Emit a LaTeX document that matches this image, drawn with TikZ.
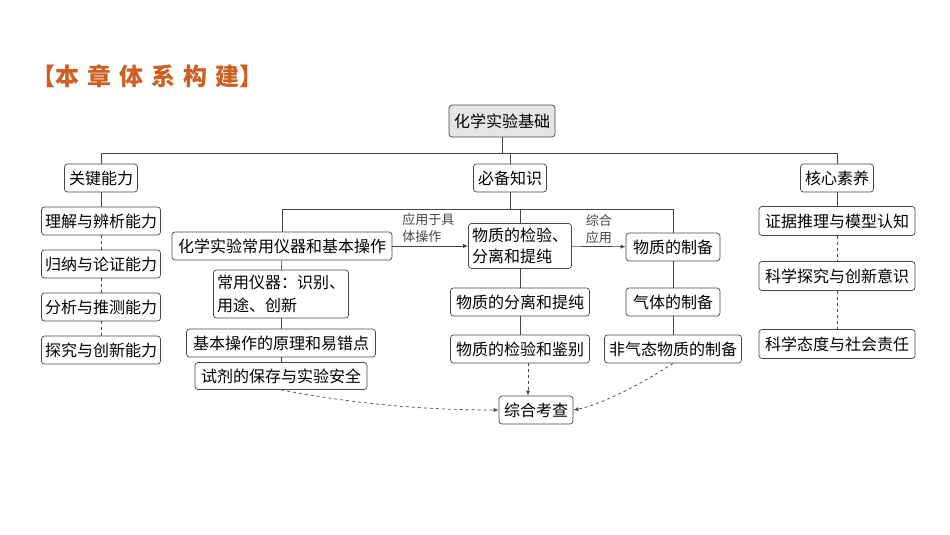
\documentclass[tikz,border=0pt]{standalone}
\usepackage{fontspec}
\setmainfont{Noto Sans CJK SC}
\usetikzlibrary{arrows.meta}
\definecolor{ttl}{RGB}{205,95,35}
\definecolor{ln}{RGB}{70,70,70}
\tikzset{
 bx/.style={draw=ln,rounded corners=3pt,inner sep=2pt,font=\fontsize{16}{18}\selectfont,line width=0.7pt,fill=white},
 lk/.style={ln,line width=0.7pt},
 dl/.style={ln,line width=0.7pt,dashed},
 da/.style={dl,-{Latex[length=5pt,width=4pt]}},
 sa/.style={lk,-{Latex[length=5pt,width=4pt]}},
 lb/.style={font=\fontsize{13}{17}\selectfont,align=left,inner sep=0pt}
}
\begin{document}
\begin{tikzpicture}[x=1pt,y=-1pt]
\useasboundingbox (0,0) rectangle (950,535);
\node[font=\fontsize{24}{26}\selectfont\bfseries,text=ttl] (title) at (148,76) {【本\,\,章\,\,体\,\,系\,\,构\,\,建】};
\node[bx,fill=gray!20,minimum width=106pt,minimum height=32pt] (root) at (502,121) {化学实验基础};
\node[bx,minimum width=73pt,minimum height=28pt] (gj) at (101,178) {关键能力};
\node[bx,minimum width=73pt,minimum height=28pt] (bb) at (510,178) {必备知识};
\node[bx,minimum width=73pt,minimum height=28pt] (hx) at (837,178) {核心素养};
\coordinate (tl) at (101,153);
\coordinate (tr) at (837,153);
\draw[lk] (root) -- (502,153);
\draw[lk] (gj.north) -- (tl) -- (tr) -- (hx.north);
\draw[lk] (bb.north) -- (510,153);
% left column
\node[bx,minimum width=119pt,minimum height=28pt] (a1) at (101,221) {理解与辨析能力};
\node[bx,minimum width=119pt,minimum height=28pt] (a2) at (101,264) {归纳与论证能力};
\node[bx,minimum width=119pt,minimum height=28pt] (a3) at (101,307) {分析与推测能力};
\node[bx,minimum width=119pt,minimum height=28pt] (a4) at (101,350) {探究与创新能力};
\draw[lk] (gj) -- (a1);
\draw[dl] (a1) -- (a2); \draw[dl] (a2) -- (a3); \draw[dl] (a3) -- (a4);
% right column
\node[bx,minimum width=156pt,minimum height=29pt] (c1) at (837,221) {证据推理与模型认知};
\node[bx,minimum width=156pt,minimum height=29pt] (c2) at (837,276) {科学探究与创新意识};
\node[bx,minimum width=156pt,minimum height=29pt] (c3) at (837,344) {科学态度与社会责任};
\draw[lk] (hx) -- (c1);
\draw[dl] (c1) -- (c2); \draw[dl] (c2) -- (c3);
% middle
\node[bx,minimum width=220pt,minimum height=28pt] (k1) at (282,246) {化学实验常用仪器和基本操作};
\node[bx,minimum width=103pt,minimum height=45pt,align=left,font=\fontsize{16}{21}\selectfont] (k2) at (520,246) {物质的检验、\\分离和提纯};
\node[bx,minimum width=94pt,minimum height=28pt] (k3) at (673,247) {物质的制备};
\coordinate (ml) at (282,209);
\coordinate (mr) at (673,209);
\draw[lk] (bb) -- (510,209);
\draw[lk] (k1.north) -- (ml) -- (mr) -- (k3.north);
\draw[lk] (k2.north) -- (520,209);
\draw[sa] (k1) -- (k2) node[lb,midway,above=3pt,xshift=-2pt] {应用于具\\体操作};
\draw[sa] (k2) -- (k3) node[lb,midway,above=3pt] {综合\\应用};
\node[bx,minimum width=135pt,minimum height=48pt,align=left,font=\fontsize{16}{23}\selectfont] (l1) at (281,294) {常用仪器：识别、\\用途、创新};
\node[bx,minimum width=189pt,minimum height=28pt] (l2) at (281,343) {基本操作的原理和易错点};
\node[bx,minimum width=172pt,minimum height=27pt] (l3) at (281,376) {试剂的保存与实验安全};
\draw[lk] (k1) -- (l1); \draw[lk] (l1) -- (l2); \draw[lk] (l2) -- (l3);
\node[bx,minimum width=139pt,minimum height=28pt] (p1) at (520,302) {物质的分离和提纯};
\node[bx,minimum width=139pt,minimum height=28pt] (p2) at (520,349) {物质的检验和鉴别};
\draw[lk] (k2) -- (p1); \draw[lk] (p1) -- (p2);
\node[bx,minimum width=94pt,minimum height=28pt] (q1) at (673,302) {气体的制备};
\node[bx,minimum width=137pt,minimum height=28pt] (q2) at (673,349) {非气态物质的制备};
\draw[lk] (k3) -- (q1); \draw[lk] (q1) -- (q2);
\node[bx,minimum width=74pt,minimum height=28pt] (z) at (536,410) {综合考查};
\draw[da] (l3.south) .. controls (360,405) and (430,410) .. (z.west);
\draw[da] (p2.south -| 528,0) -- (z.north -| 528,0);
\draw[da] (q2.south) .. controls (640,385) and (600,405) .. (z.east);
\end{tikzpicture}
\end{document}
